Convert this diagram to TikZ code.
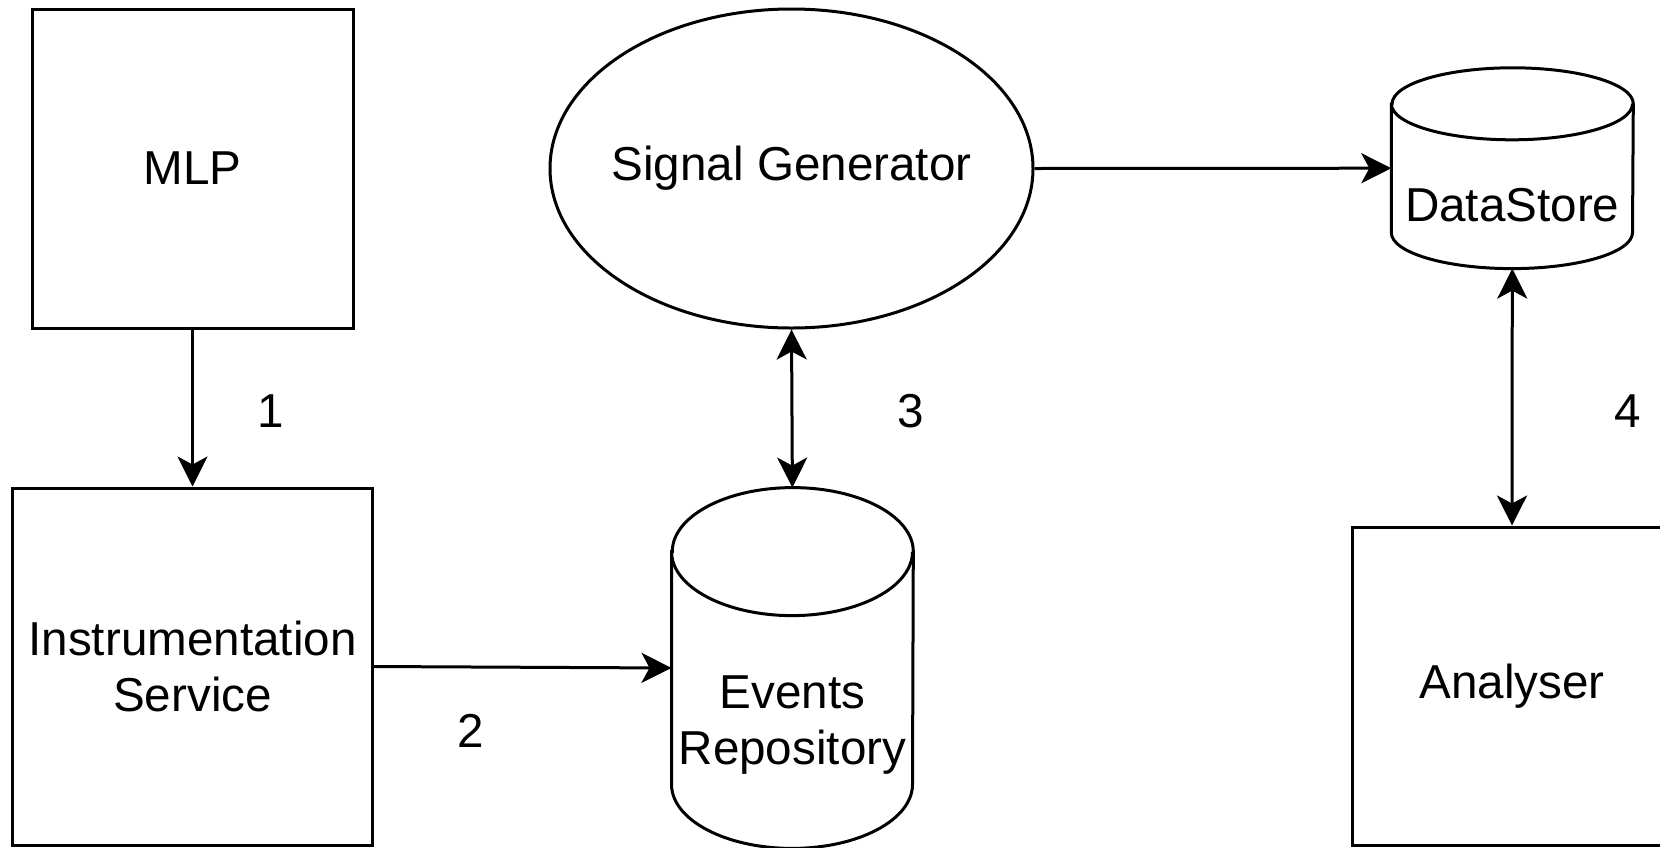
\documentclass[tikz,border=0pt]{standalone}
\usepackage{fontspec}
\setmainfont{Liberation Sans}
\usetikzlibrary{shapes.geometric,arrows.meta}
\begin{document}
\begin{tikzpicture}[x=0.5pt,y=-0.5pt,
  ln/.style={line width=1.5pt,draw=black},
  box/.style={ln,rectangle,inner sep=0pt,align=center,font=\fontsize{23.8pt}{28pt}\selectfont},
  oval/.style={ln,ellipse,inner xsep=-30pt,inner ysep=0pt,align=center,font=\fontsize{23.8pt}{28pt}\selectfont},
  cyl/.style={rectangle,draw=none,inner sep=0pt},
  txt/.style={inner sep=0pt,align=center,font=\fontsize{23.8pt}{28pt}\selectfont},
  conn/.style={line width=1.5pt,-{Stealth[length=15pt,width=15pt,inset=4pt]}},
  biconn/.style={line width=1.5pt,{Stealth[length=15pt,width=15pt,inset=4pt]}-{Stealth[length=15pt,width=15pt,inset=4pt]}}
]
\useasboundingbox (0,0) rectangle (1660,847);
\clip (0,0) rectangle (1660,847);
\fill[white] (0,0) rectangle (1660,847);

% nodes
\node[box,minimum width=160.5pt,minimum height=159.5pt] (mlp) at (192.5,168.5) {MLP};
\node[box,minimum width=180pt,minimum height=178.5pt] (instr) at (192.5,666.5) {Instrumentation\\Service};
\node[oval,minimum width=241.5pt,minimum height=159.5pt] (sig) at (791.5,168.5) {Signal Generator};
\node[box,minimum width=160pt,minimum height=159pt] (an) at (1512,686) {Analyser};
\node[cyl,minimum width=120.5pt,minimum height=180pt] (er) at (792.4,668) {};
\node[cyl,minimum width=120.6pt,minimum height=100pt] (ds) at (1512.3,168.2) {};

% cylinder: Events Repository (ry = 32pt)
\draw[ln,fill=white] ([yshift=-32pt]er.north west) -- ([yshift=32pt]er.south west)
  arc[start angle=180,end angle=360,x radius=60.25pt,y radius=32pt]
  -- ([yshift=-32pt]er.north east)
  arc[start angle=0,end angle=180,x radius=60.25pt,y radius=32pt] -- cycle;
\draw[ln] ([yshift=-32pt]er.north west)
  arc[start angle=180,end angle=360,x radius=60.25pt,y radius=32pt];
% cylinder: DataStore (ry = 18pt)
\draw[ln,fill=white] ([yshift=-18pt]ds.north west) -- ([yshift=18pt]ds.south west)
  arc[start angle=180,end angle=360,x radius=60.3pt,y radius=18pt]
  -- ([yshift=-18pt]ds.north east)
  arc[start angle=0,end angle=180,x radius=60.3pt,y radius=18pt] -- cycle;
\draw[ln] ([yshift=-18pt]ds.north west)
  arc[start angle=180,end angle=360,x radius=60.3pt,y radius=18pt];

\node[txt] (erlbl) at (792.4,725) {Events\\Repository};
\node[txt] (dslbl) at (1512.3,205) {DataStore};

% connectors
\draw[conn] (mlp.south) -- (instr.north);
\draw[conn] (instr.east) -- (er.west);
\draw[biconn] (sig.south) -- (er.north);
\draw[conn] (sig.east) -- (ds.west);
\draw[biconn] (ds.south) -- (an.north);

% connector labels
\node[txt] (l1) at (271,411) {1};
\node[txt] (l2) at (471,731) {2};
\node[txt] (l3) at (910.5,411) {3};
\node[txt] (l4) at (1628,411) {4};
\end{tikzpicture}
\end{document}
